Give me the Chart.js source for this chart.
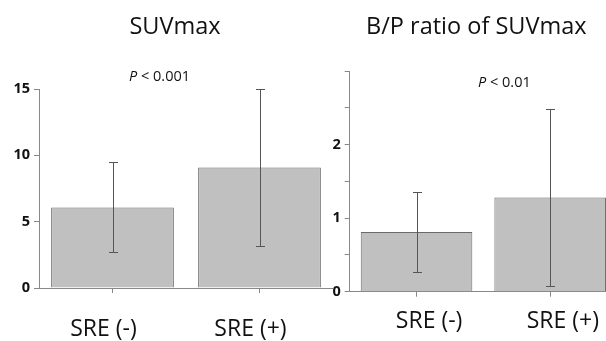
<!DOCTYPE html>
<html>
<head>
<meta charset="utf-8">
<script src="https://cdn.jsdelivr.net/npm/chart.js@4/dist/chart.umd.min.js"></script>
<style>
  html, body { margin: 0; padding: 0; background: #fff; overflow: hidden; width: 606px; height: 341px; }
  canvas { position: absolute; top: 0; }
  #c1 { left: 0; }
  #c2 { left: 303px; }
</style>
</head>
<body>
<canvas id="c1" width="333" height="341"></canvas>
<canvas id="c2" width="314" height="341"></canvas>
<script>
// ---- data ----
const categories = ['SRE (-)', 'SRE (+)'];
const suvMean = [6.07, 9.09];
const suvLow  = [2.71, 3.13];
const suvHigh = [9.47, 15.0];
const bpMean = [0.81, 1.28];
const bpLow  = [0.27, 0.08];
const bpHigh = [1.35, 2.49];
const suvTickLabels = [0, 5, 10, 15];
const bpTickLabels = [0, 1, 2];
const titles = ['SUVmax', 'B/P ratio of SUVmax'];
const pTexts = [' < 0.001', ' < 0.01'];

const FONT = "'Open Sans', 'DejaVu Sans', sans-serif";

const errPlugin = {
  id: 'errbars',
  afterDatasetsDraw(chart, args, opts) {
    const ctx = chart.ctx;
    const meta = chart.getDatasetMeta(0);
    const ys = chart.scales.y;
    ctx.save();
    ctx.strokeStyle = '#555';
    ctx.lineWidth = 1;
    meta.data.forEach((bar, i) => {
      const x = Math.round(bar.x) + 0.5;
      const yl = Math.round(ys.getPixelForValue(opts.low[i])) + 0.5;
      const yh = Math.round(ys.getPixelForValue(opts.high[i])) + 0.5;
      ctx.beginPath();
      ctx.moveTo(x, yl); ctx.lineTo(x, yh);
      ctx.moveTo(x - 4.5, yl); ctx.lineTo(x + 4.5, yl);
      ctx.moveTo(x - 4.5, yh); ctx.lineTo(x + 4.5, yh);
      ctx.stroke();
    });
    ctx.restore();
  }
};

const textPlugin = {
  id: 'annot',
  afterDraw(chart, args, opts) {
    const ctx = chart.ctx;
    ctx.save();
    ctx.fillStyle = '#111';
    ctx.textBaseline = 'middle';
    ctx.textAlign = 'center';
    ctx.font = '23.5px ' + FONT;
    ctx.fillText(opts.title, opts.tx, opts.ty);
    ctx.textAlign = 'left';
    ctx.font = 'italic 14.5px ' + FONT;
    ctx.fillText('P', opts.px, opts.py);
    const w = ctx.measureText('P').width;
    ctx.font = '14.5px ' + FONT;
    ctx.fillText(opts.ptext, opts.px + w, opts.py);
    ctx.restore();
  }
};

function makeChart(id, cfg) {
  return new Chart(document.getElementById(id), {
    type: 'bar',
    data: {
      labels: categories,
      datasets: [{
        data: cfg.values,
        backgroundColor: '#c0c0c0',
        borderColor: '#6a6a6a',
        borderWidth: 1,
        categoryPercentage: 1,
        barPercentage: 0.835
      }]
    },
    options: {
      responsive: false,
      animation: false,
      devicePixelRatio: 1,
      layout: { padding: { top: cfg.top, left: 0, right: 0, bottom: 0 } },
      plugins: {
        legend: { display: false },
        tooltip: { enabled: false },
        errbars: { low: cfg.low, high: cfg.high },
        annot: cfg.annot
      },
      scales: {
        x: {
          offset: true,
          grid: { display: true, offset: false, drawOnChartArea: false, drawTicks: true, tickLength: 5, color: '#888' },
          border: { display: true, color: '#888', width: 1 },
          ticks: { color: '#111', font: { family: FONT, size: 23 }, padding: cfg.xpad, labelOffset: cfg.labelOffset, maxRotation: 0, autoSkip: false },
          afterFit(s) { s.height = cfg.xh; }
        },
        y: {
          min: 0, max: cfg.max,
          grid: { display: true, drawOnChartArea: false, drawTicks: true, tickLength: 5, color: '#888' },
          border: { display: true, color: '#888', width: 1 },
          ticks: {
            stepSize: cfg.step,
            color: '#111',
            padding: 4,
            font: { family: FONT, size: 14.5, weight: 'bold' },
            callback: (v) => cfg.tickLabels.includes(v) ? String(v) : ''
          },
          afterFit(s) { s.width = cfg.yw; }
        }
      }
    },
    plugins: [errPlugin, textPlugin]
  });
}

makeChart('c1', {
  values: suvMean, low: suvLow, high: suvHigh,
  max: 15, step: 5, tickLabels: suvTickLabels,
  top: 89, yw: 39, xh: 53, xpad: 23, labelOffset: -9,
  annot: { title: titles[0], tx: 175, ty: 27, px: 129, py: 77, ptext: pTexts[0] }
});

makeChart('c2', {
  values: bpMean, low: bpLow, high: bpHigh,
  max: 3, step: 0.5, tickLabels: bpTickLabels,
  top: 71, yw: 46.7, xh: 49.3, xpad: 11, labelOffset: 12.6,
  annot: { title: titles[1], tx: 173.3, ty: 27, px: 175, py: 83, ptext: pTexts[1] }
});
</script>
</body>
</html>
